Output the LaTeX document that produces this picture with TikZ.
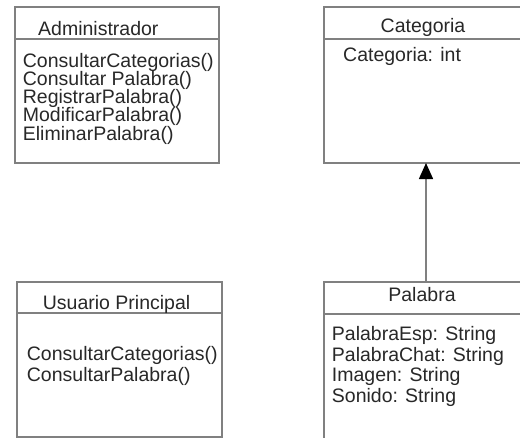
\documentclass[tikz,border=0pt]{standalone}
\usepackage{fontspec}
\setmainfont{Liberation Sans}
\usetikzlibrary{arrows.meta}
\definecolor{linegray}{RGB}{128,128,128}
\definecolor{txt}{RGB}{40,40,40}
\begin{document}
\begin{tikzpicture}[x=1pt,y=-1pt,
 classbox/.style={draw=linegray,line width=1.5pt,anchor=north west,inner sep=0pt,outer sep=0pt},
 divider/.style={draw=linegray,line width=1.5pt},
 lbl/.style={anchor=base west,inner sep=0pt,text=txt,font=\fontsize{19.5}{19.5}\selectfont},
 ttl/.style={anchor=base,inner sep=0pt,text=txt,font=\fontsize{19.5}{19.5}\selectfont},
 assoc/.style={draw=linegray,line width=1.5pt,-{Triangle[length=16pt,width=14pt,color=black]}}]
\useasboundingbox (0,0) rectangle (520,437);
\clip (0,0) rectangle (520,437);
\fill[white] (0,0) rectangle (520,437);
% class boxes
\node[classbox,minimum width=204pt,minimum height=156pt] (adm) at (15,7) {};
\node[classbox,minimum width=204pt,minimum height=156pt] (cat) at (324,7) {};
\node[classbox,minimum width=205pt,minimum height=155pt] (usr) at (17,282) {};
\node[classbox,minimum width=204pt,minimum height=170pt] (pal) at (324,282) {};
% dividers
\draw[divider] (adm.west |- 0,39) -- (adm.east |- 0,39);
\draw[divider] (cat.west |- 0,39) -- (cat.east |- 0,39);
\draw[divider] (usr.west |- 0,313) -- (usr.east |- 0,313);
\draw[divider] (pal.west |- 0,314) -- (pal.east |- 0,314);
% Administrador
\node[lbl] (admt) at (38,35) {Administrador};
\node[lbl] (adm1) at (22.7,67) {ConsultarCategorias()};
\node[lbl] (adm2) at (22.7,85.3) {Consultar Palabra()};
\node[lbl] (adm3) at (22.7,103.6) {RegistrarPalabra()};
\node[lbl] (adm4) at (22.7,121.9) {ModificarPalabra()};
\node[lbl] (adm5) at (22.7,140.2) {EliminarPalabra()};
% Categoria
\node[ttl] (catt) at (423,32) {Categoria};
\node[lbl] (cat1) at (343,61) {Categoria: int};
% Usuario Principal
\node[lbl] (usrt) at (42.7,309.3) {Usuario Principal};
\node[lbl] (usr1) at (26.7,360.7) {ConsultarCategorias()};
\node[lbl] (usr2) at (26.7,381.7) {ConsultarPalabra()};
% Palabra
\node[ttl] (palt) at (422,301.7) {Palabra};
\node[lbl] (pal1) at (331.7,340) {PalabraEsp: String};
\node[lbl] (pal2) at (331.7,361) {PalabraChat: String};
\node[lbl] (pal3) at (331.7,381.7) {Imagen: String};
\node[lbl] (pal4) at (331.7,402.7) {Sonido: String};
% association
\draw[assoc] (pal.north) -- (cat.south);
\end{tikzpicture}
\end{document}
